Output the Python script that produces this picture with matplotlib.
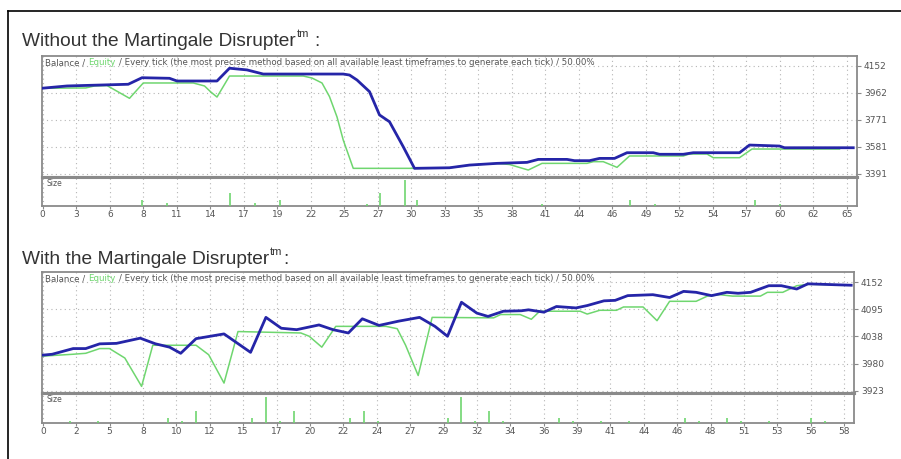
import numpy as np
import matplotlib.pyplot as plt
from matplotlib.lines import Line2D

# top report: without the disrupter
top_balance_t = [0, 2.0, 6.9, 8.0, 10.2, 10.8, 14.0, 15.0, 16.4, 17.7, 24.1, 24.6, 25.2, 26.2,
                 27.0, 27.8, 28.9, 29.8, 32.6, 34.2, 36.4, 38.8, 39.7, 42.0, 42.6, 43.8, 44.6,
                 45.8, 46.8, 48.9, 49.4, 51.3, 52.1, 55.8, 56.6, 59.0, 59.4, 64.9]
top_balance = [3993, 4009, 4021, 4067, 4063, 4044, 4044, 4134, 4122, 4093, 4093, 4086, 4051, 3969,
               3805, 3757, 3581, 3429, 3433, 3452, 3464, 3471, 3492, 3492, 3483, 3483, 3499,
               3499, 3539, 3539, 3528, 3528, 3539, 3539, 3593, 3586, 3574, 3574]
top_equity_t = [0, 3.5, 4.2, 5.2, 7.0, 8.1, 12.1, 13.0, 13.5, 14.0, 15.0, 20.9, 21.6, 22.4, 23.0,
                23.6, 24.1, 24.9, 29.8, 32.6, 34.2, 36.4, 37.4, 38.9, 40.0, 43.6, 44.1, 44.9,
                46.0, 47.0, 51.3, 51.8, 53.2, 53.7, 55.8, 56.8, 63.8]
top_equity = [3993, 3995, 4009, 4012, 3922, 4030, 4030, 4009, 3967, 3931, 4079, 4079, 4065, 4030,
              3934, 3791, 3628, 3429, 3429, 3433, 3452, 3464, 3456, 3417, 3464, 3464, 3476, 3476,
              3436, 3516, 3516, 3530, 3530, 3504, 3504, 3565, 3565]
top_size_t = [8, 10, 15, 17, 19, 26, 27, 29, 30, 40, 47, 49, 57, 59]
top_size = [0.35, 0.15, 0.75, 0.15, 0.35, 0.1, 0.75, 1.5, 0.35, 0.1, 0.35, 0.1, 0.35, 0.1]
top_yticks = [4152, 3962, 3771, 3581, 3391]
top_xlabels = [0, 3, 6, 8, 11, 14, 17, 19, 22, 25, 27, 30, 33, 35, 38, 41, 44, 46, 49, 52, 54,
               57, 60, 62, 65]

# bottom report: with the disrupter
bot_balance_t = [0, 0.7, 2.2, 3.1, 4.1, 5.3, 7.0, 8.1, 9.1, 9.9, 11.0, 13.0, 14.9, 16.0, 17.1,
                 18.2, 19.8, 20.8, 21.9, 22.9, 24.1, 25.5, 27.0, 28.1, 29.0, 30.0, 31.1, 31.9,
                 33.0, 34.3, 34.8, 35.9, 36.8, 38.2, 39.0, 40.2, 41.0, 41.9, 43.7, 44.9, 45.9,
                 46.8, 47.9, 49.0, 49.8, 50.7, 52.0, 52.9, 54.0, 54.8, 56.8, 57.9]
bot_balance = [3998, 4000, 4012, 4012, 4022, 4023, 4034, 4022, 4015, 4002, 4033, 4043, 4004, 4078,
               4055, 4052, 4062, 4052, 4045, 4075, 4061, 4070, 4078, 4059, 4038, 4110, 4087, 4080,
               4091, 4092, 4094, 4089, 4101, 4098, 4103, 4113, 4114, 4124, 4126, 4120, 4133,
               4131, 4124, 4131, 4129, 4131, 4145, 4145, 4138, 4149, 4147, 4146]
bot_equity_t = [0, 2.2, 3.1, 4.1, 4.8, 5.9, 7.1, 7.9, 11.0, 11.9, 13.0, 14.0, 18.5, 19.1, 20.0,
                21.0, 24.6, 25.4, 26.0, 26.9, 27.9, 32.3, 32.8, 34.2, 35.0, 35.6, 38.5, 39.0,
                39.9, 41.1, 41.6, 43.0, 44.0, 44.9, 46.8, 47.6, 48.5, 49.4, 51.4, 51.9, 53.0,
                54.0, 54.9, 56.8]
bot_equity = [3996, 4000, 4002, 4012, 4012, 3992, 3932, 4019, 4019, 3999, 3939, 4048, 4045, 4038,
              4015, 4059, 4059, 4054, 4019, 3955, 4078, 4077, 4084, 4084, 4074, 4091, 4091, 4085,
              4093, 4093, 4100, 4100, 4071, 4112, 4112, 4123, 4126, 4123, 4123, 4131, 4131,
              4145, 4148, 4147]
bot_size_t = [2, 4, 9, 10, 11, 15, 16, 17, 18, 22, 23, 24, 29, 30, 31, 32, 33, 37, 38, 40, 42,
              46, 47, 49, 50, 52, 55, 56]
bot_size = [0.1, 0.1, 0.3, 0.1, 0.7, 0.3, 1.5, 0.1, 0.7, 0.3, 0.7, 0.1, 0.3, 1.5, 0.1, 0.7, 0.1,
            0.3, 0.1, 0.1, 0.1, 0.3, 0.1, 0.3, 0.1, 0.1, 0.3, 0.1]
bot_yticks = [4152, 4095, 4038, 3980, 3923]
bot_xlabels = [0, 2, 5, 8, 10, 12, 15, 17, 20, 22, 24, 27, 29, 32, 34, 36, 39, 41, 44, 46, 48,
               51, 53, 56, 58]

titles = ['Without the Martingale Disrupter', 'With the Martingale Disrupter']
header = ['Balance /', 'Equity',
          '/ Every tick (the most precise method based on all available least timeframes'
          ' to generate each tick) / 50.00%']

BLUE = '#2525a8'
GREEN = '#6fd66f'
GREY = '#8a8a8a'
TXT = '#555555'
W, H = 901, 459


def rect(x0, y0, x1, y1):
    # pixel box -> figure fraction
    return [x0 / W, 1 - y1 / H, (x1 - x0) / W, (y1 - y0) / H]


def panel(main_box, size_box, bt, bv, et, ev, st, sv, yticks, ylim, xlim, xlabels, xt_end):
    ax = fig.add_axes(rect(*main_box))
    axs = fig.add_axes(rect(*size_box))
    xt = np.linspace(xlim[0] + 0.06, xt_end, len(xlabels))

    ax.plot(et, ev, color=GREEN, lw=1.1, zorder=3)
    ax.plot(bt, bv, color=BLUE, lw=2.0, zorder=4)
    ax.set_xlim(*xlim)
    ax.set_ylim(*ylim)
    ax.set_xticks(xt)
    ax.set_xticklabels([])
    ax.tick_params(axis='x', length=0)
    ax.set_yticks(yticks)
    ax.yaxis.tick_right()
    ax.tick_params(axis='y', length=3, width=0.8, color=GREY, labelsize=6.5,
                   labelcolor=TXT, pad=2)
    ax.grid(True, color='#b5b5b5', lw=0.8, linestyle=(0, (1, 3)))

    axs.vlines(st, 0, sv, colors=GREEN, lw=1.2, zorder=3)
    axs.set_xlim(*xlim)
    axs.set_ylim(0, 1.7)
    axs.set_yticks([])
    axs.set_xticks(xt)
    axs.set_xticklabels([str(v) for v in xlabels])
    axs.tick_params(axis='x', length=2, width=0.8, color=GREY, labelsize=6.5,
                    labelcolor=TXT, pad=1)
    axs.grid(True, axis='x', color='#b5b5b5', lw=0.8, linestyle=(0, (1, 3)))
    axs.text(0.006, 0.78, 'Size', transform=axs.transAxes, fontsize=5.5, color=TXT,
             va='center')

    for a in (ax, axs):
        for sp in a.spines.values():
            sp.set_color(GREY)
            sp.set_linewidth(1.3)
    ax.spines['bottom'].set_linewidth(2.2)
    axs.spines['top'].set_linewidth(2.2)

    # header line inside the chart, "Equity" in green
    t = ax.text(0.004, 0.945, header[0], color=TXT, fontsize=6.2, transform=ax.transAxes,
                va='center', ha='left')
    t = ax.annotate(header[1], xy=(1, 0), xycoords=t, xytext=(2.2, 0), textcoords='offset points',
                    va='bottom', ha='left', color=GREEN, fontsize=6.2)
    ax.annotate(header[2], xy=(1, 0), xycoords=t, xytext=(2.2, 0), textcoords='offset points',
                va='bottom', ha='left', color=TXT, fontsize=6.2)
    return ax


fig = plt.figure(figsize=(W / 100, H / 100), dpi=100)

# outer frame (left and top edges)
fig.add_artist(Line2D([8 / W, 8 / W], [0, 1 - 11 / H], color='black', lw=1.2))
fig.add_artist(Line2D([8 / W, 1], [1 - 11 / H, 1 - 11 / H], color='black', lw=1.2))

panel((42, 56, 857, 177), (42, 177, 857, 206), top_balance_t, top_balance, top_equity_t,
      top_equity, top_size_t, top_size, top_yticks, (3368, 4220), (0, 65.2), top_xlabels, 64.4)
panel((42, 272, 854, 393), (42, 393, 854, 423), bot_balance_t, bot_balance, bot_equity_t,
      bot_equity, bot_size_t, bot_size, bot_yticks, (3918, 4174), (-0.03, 58.1), bot_xlabels, 57.4)

# headings with superscript tm, drawn on a blank overlay
over = fig.add_axes([0, 0, 1, 1])
over.set_axis_off()
over.set_xlim(0, W)
over.set_ylim(H, 0)
for y, (label, tail) in zip([41, 259], [(titles[0], ':'), (titles[1], ':')]):
    t = over.text(22, y, label, fontsize=13.8, color='#333333', va='center',
                  family='Liberation Sans')
    s = over.annotate('tm', xy=(1, 0.62), xycoords=t, xytext=(0.5, 0), textcoords='offset points',
                      va='bottom', ha='left', fontsize=8, color='#333333', family='Liberation Sans')
    gap = 4.5 if label == titles[0] else 1.5
    over.annotate(tail, xy=(1, 0), xycoords=t, xytext=(s.get_window_extent(
                      fig.canvas.get_renderer()).width * 0.72 + gap, 0),
                  textcoords='offset points', va='bottom', ha='left', fontsize=13.8,
                  color='#333333', family='Liberation Sans')

plt.savefig('out.png', dpi=100)
